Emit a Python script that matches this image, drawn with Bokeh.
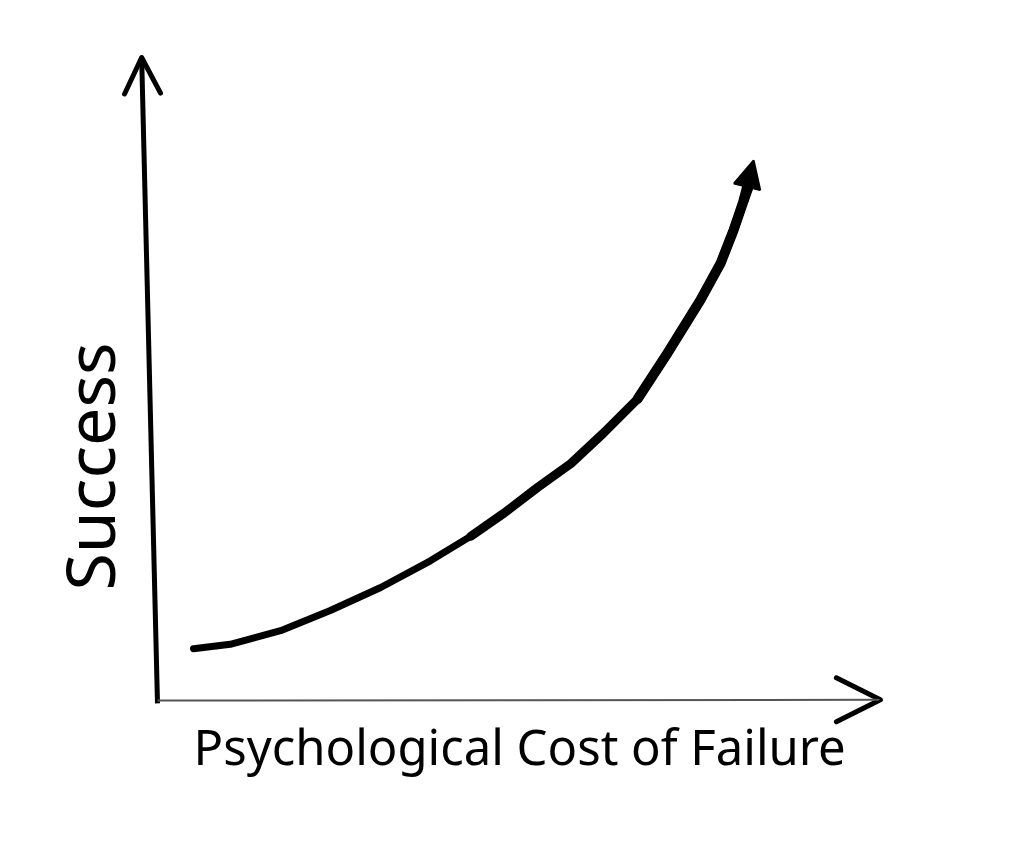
import numpy as np
from bokeh.plotting import figure
from bokeh.models import Range1d, Arrow, OpenHead, NormalHead
from bokeh.core.properties import value
from bokeh.embed import file_html
from bokeh.resources import INLINE

# ---- data (abstract units: cost of failure vs success) ----
cost = [0.50, 1.01, 1.71, 2.40, 3.10, 3.79, 4.35, 4.81, 5.28, 5.74, 6.19,
        6.67, 7.08, 7.54, 7.82, 8.00, 8.14, 8.24]
success = [0.72, 0.78, 0.97, 1.25, 1.57, 1.94, 2.28, 2.60, 2.96, 3.29, 3.71,
           4.19, 4.82, 5.56, 6.07, 6.53, 6.94, 7.22]
curve_tip = [8.28, 7.50]

x_axis_end = [10.04, 0.01]
y_axis_start = [0.0, -0.04]
y_axis_end = [-0.22, 8.93]

x_label = "Psychological Cost of Failure"
y_label = "Success"

S = 72.0  # px per unit
W, H = 1008, 830
ox, oy = 157.0, 700.0  # origin in figure px

p = figure(width=W, height=H,
           x_range=Range1d(-ox / S, (W - ox) / S),
           y_range=Range1d(-(H - oy) / S, oy / S),
           min_border=0, outline_line_color=None,
           toolbar_location=None, output_backend="svg",
           x_axis_type=None, y_axis_type=None,
           background_fill_color="white", border_fill_color="white")
p.grid.visible = False

# y axis (hand drawn, thick)
p.add_layout(Arrow(x_start=y_axis_start[0], y_start=y_axis_start[1],
                   x_end=y_axis_end[0], y_end=y_axis_end[1],
                   line_color="black", line_width=5,
                   end=OpenHead(size=36, line_width=5, line_color="black",
                                line_cap="round", line_join="round")))

# x axis (thin grey shaft, bold open head)
p.add_layout(Arrow(x_start=0, y_start=0, x_end=x_axis_end[0], y_end=x_axis_end[1],
                   line_color="#555555", line_width=2,
                   end=OpenHead(size=44, line_width=5, line_color="black",
                                line_cap="round", line_join="round")))

# curve: thinner at start, thicker toward the arrow
p.line(cost, success, line_width=7, line_color="black",
       line_join="round", line_cap="round")
p.line(cost[6:], success[6:], line_width=9, line_color="black",
       line_join="round", line_cap="round")
p.line(cost[11:], success[11:], line_width=10, line_color="black",
       line_join="round", line_cap="round")

# arrow head of curve
p.add_layout(Arrow(x_start=cost[-2], y_start=success[-2], x_end=curve_tip[0], y_end=curve_tip[1],
                   line_color="black", line_width=10,
                   end=NormalHead(size=27, fill_color="black", line_color="black", line_width=2)))

# labels
p.text(x=[5.03], y=[-0.625], text=[x_label], text_align="center", text_baseline="middle",
       text_font=value("Noto Sans"), text_font_size="49px", text_color="black")
p.text(x=[-0.96], y=[3.25], text=[y_label], angle=np.pi / 2, text_align="center",
       text_baseline="middle", text_font=value("Noto Sans"), text_font_size="68px",
       text_color="black")

open("out.html", "w").write(file_html(p, INLINE))
